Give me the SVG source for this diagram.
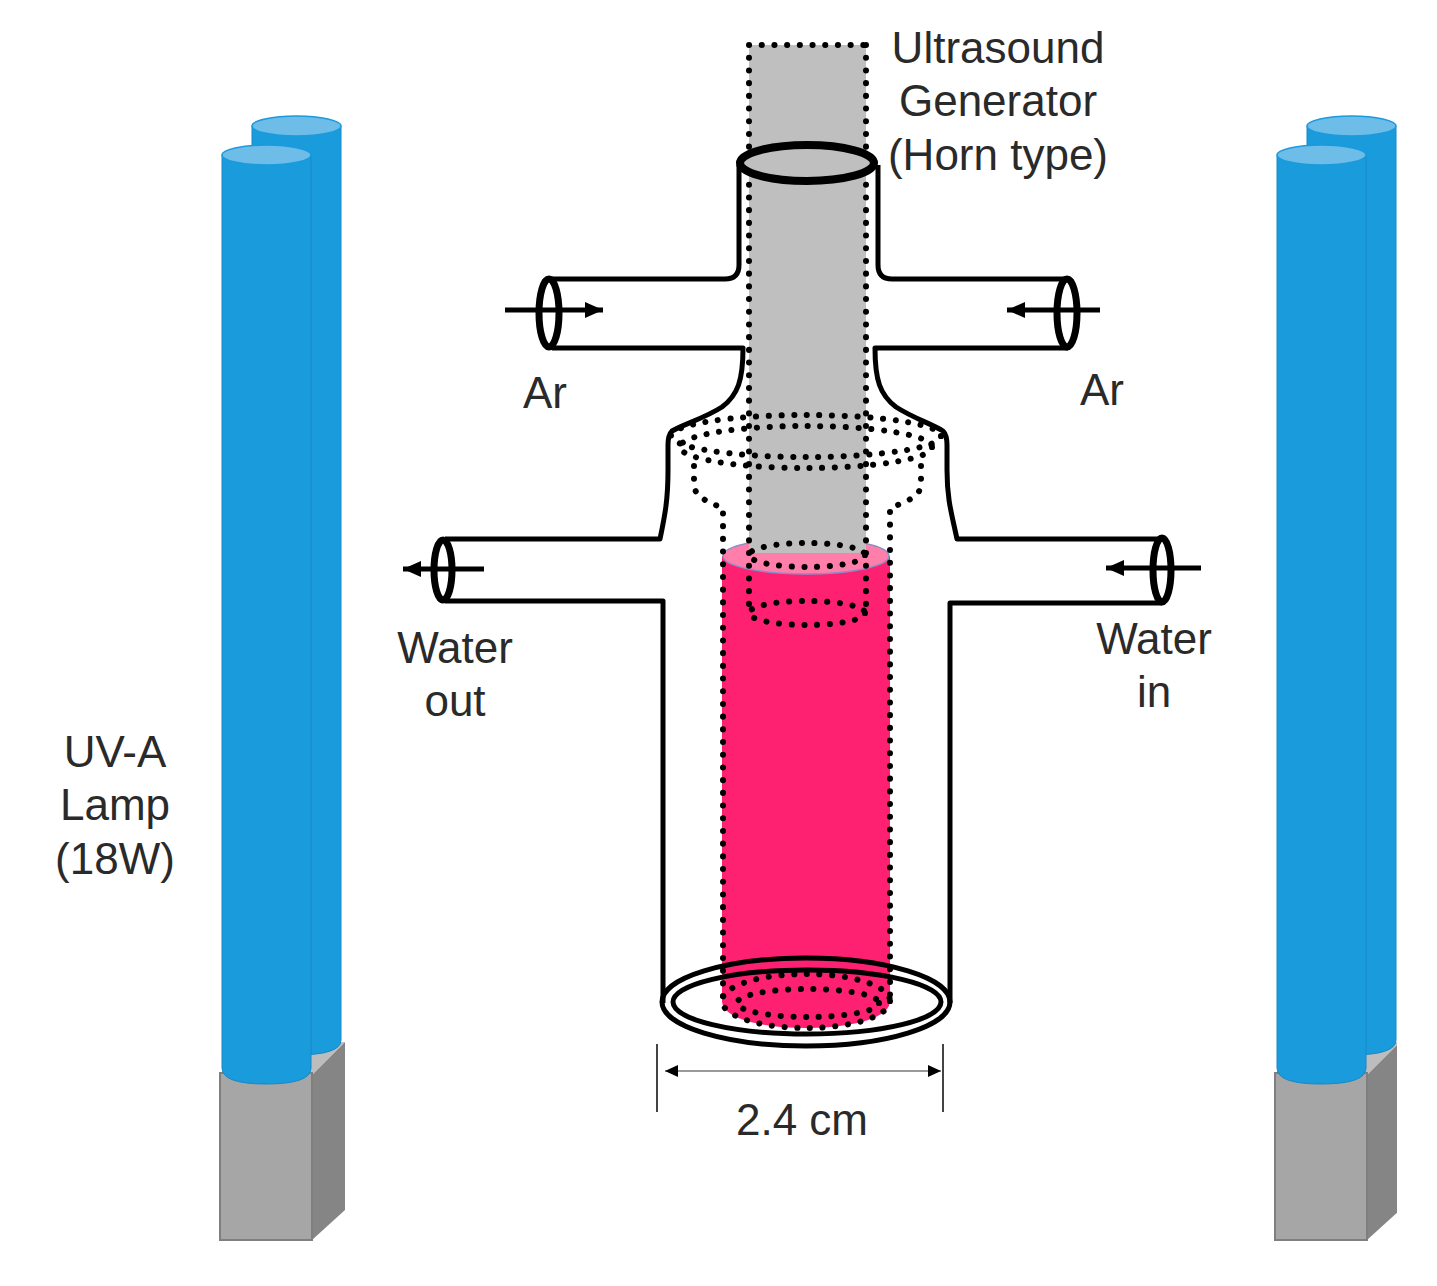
<svg xmlns="http://www.w3.org/2000/svg" width="1437" height="1286" viewBox="0 0 1437 1286">
<style>
text{font-family:"Liberation Sans",Arial,sans-serif;font-size:44px;fill:#2a2a2a;text-anchor:middle}
.wall{fill:none;stroke:#000;stroke-width:5;stroke-linejoin:round}
.end{fill:none;stroke:#000;stroke-width:7}
.dot{fill:none;stroke:#000;stroke-width:6;stroke-linecap:round;stroke-dasharray:0.1 12.6}
.lamp{fill:#1a9bdc;stroke:#1788c4;stroke-width:1}
.cap{fill:#6dbde8;stroke:#1a9bdc;stroke-width:1.5}
.bf{fill:#a6a6a6;stroke:#7f7f7f;stroke-width:2}
.bs{fill:#858585}
.bt{fill:#bdbdbd}
.arr{stroke:#000;stroke-width:5;fill:none}
</style>
<defs>
<marker id="ah" markerUnits="userSpaceOnUse" markerWidth="20" markerHeight="20" refX="18" refY="10" orient="auto"><path d="M0 2L18 10L0 18Z" fill="#000"/></marker>
<marker id="dh" markerUnits="userSpaceOnUse" markerWidth="14" markerHeight="14" refX="13" refY="6" orient="auto"><path d="M0 0L13 6L0 12Z" fill="#000"/></marker>
<marker id="ds" markerUnits="userSpaceOnUse" markerWidth="14" markerHeight="14" refX="0" refY="6" orient="auto"><path d="M13 0L0 6L13 12Z" fill="#000"/></marker>
<clipPath id="rightClip"><rect x="1200" y="0" width="197" height="1286"/></clipPath>
<g id="lampShape">
<path class="bt" d="M312 1075L345 1042L300 1042Z"/>
<path class="lamp" d="M252 126V1040Q252 1055 296 1055Q341 1055 341 1040V126Z"/>
<ellipse class="cap" cx="296.500" cy="126" rx="44.500" ry="10"/>
<path class="bs" d="M312 1240L345 1210V1042L312 1075Z"/>
<rect class="bf" x="220" y="1073" width="92" height="167"/>
<path class="lamp" d="M222 155V1068Q222 1084 266 1084Q311 1084 311 1068V155Z"/>
<ellipse class="cap" cx="266.500" cy="155" rx="44.500" ry="10"/>
</g>
</defs>
<rect width="1437" height="1286" fill="#fff"/>
<g id="lamp-left"><use href="#lampShape"/></g>
<g id="lamp-right" clip-path="url(#rightClip)"><use href="#lampShape" x="1055"/></g>

<g id="sample">
<path d="M722 556V1001C722 1018 760 1028 806 1028C852 1028 890 1018 890 1001V556Z" fill="#fe2172"/>
<ellipse cx="806" cy="556" rx="83" ry="18" fill="#ff7eaa" stroke="#8a8fc8" stroke-width="1.500"/>
</g>

<g id="horn">
<rect x="749" y="45" width="117" height="508" fill="#bfbfbf"/>
<path class="dot" d="M749 45H866M749 45V612M866 45V612"/>
</g>

<g id="inner-vessel">
<ellipse class="dot" cx="806" cy="436" rx="135" ry="21"/>
<ellipse class="dot" cx="806" cy="447" rx="126" ry="21"/>
<path class="dot" d="M694 466V484C694 497 708 502 723 508V1001"/>
<path class="dot" d="M921 466V484C921 497 905 502 890 508V1001"/>
<ellipse class="dot" cx="807" cy="555" rx="58" ry="12"/>
<ellipse class="dot" cx="807" cy="613" rx="58" ry="12"/>
<ellipse class="dot" cx="806" cy="1001" rx="84" ry="27"/>
<ellipse class="dot" cx="808" cy="1003" rx="71" ry="14"/>
</g>

<g id="jacket">
<path class="wall" d="M739 165V265Q739 279 725 279H552"/>
<path class="wall" d="M878 165V265Q878 279 892 279H1068"/>
<path class="wall" d="M552 348H743C743 380 738 395 722 407C705 418 684 424 672 431Q668 435 668 445V470C668 500 665 515 660 539H445"/>
<path class="wall" d="M1068 348H875C875 380 880 395 896 407C913 418 932 424 943 431Q947 435 947 445V470C947 500 952 515 957 539H1162"/>
<path class="wall" d="M445 601H663V1003"/>
<path class="wall" d="M1162 603H950V1003"/>
<ellipse class="wall" cx="806" cy="1002" rx="144" ry="44"/>
<ellipse class="wall" cx="807" cy="1002" rx="134" ry="32"/>
<ellipse cx="807" cy="163" rx="67" ry="18" fill="#bfbfbf" stroke="#000" stroke-width="8"/>
<ellipse class="end" cx="549" cy="313" rx="10" ry="34"/>
<ellipse class="end" cx="1067" cy="313" rx="10" ry="34"/>
<ellipse class="end" cx="443" cy="570" rx="9" ry="30"/>
<ellipse class="end" cx="1162" cy="570" rx="9" ry="32"/>
</g>

<g id="connectors">
<path class="arr" marker-end="url(#ah)" d="M505 310H603"/>
<path class="arr" marker-end="url(#ah)" d="M1100 310H1007"/>
<path class="arr" marker-end="url(#ah)" d="M484 569H403"/>
<path class="arr" marker-end="url(#ah)" d="M1201 568H1106"/>
<path d="M657 1044V1112M943 1044V1112" stroke="#444" stroke-width="2" fill="none"/>
<path d="M665 1071H941" stroke="#999" stroke-width="2" fill="none" marker-start="url(#ds)" marker-end="url(#dh)"/>
</g>

<g id="labels">
<text x="998" y="63">Ultrasound</text>
<text x="998" y="116">Generator</text>
<text x="998" y="170">(Horn type)</text>
<text x="545" y="408">Ar</text>
<text x="1102" y="405">Ar</text>
<text x="455" y="663">Water</text>
<text x="455" y="716">out</text>
<text x="1154" y="654">Water</text>
<text x="1154" y="707">in</text>
<text x="115" y="767">UV-A</text>
<text x="115" y="820">Lamp</text>
<text x="115" y="874">(18W)</text>
<text x="802" y="1135">2.4 cm</text>
</g>
</svg>
